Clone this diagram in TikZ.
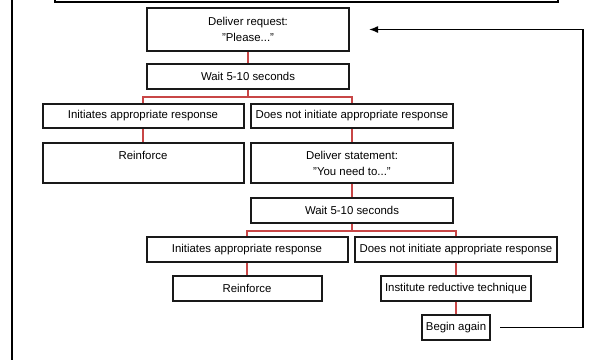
\documentclass[tikz,border=0pt]{standalone}
\usepackage{fontspec}
\setmainfont{Liberation Sans}
\usetikzlibrary{arrows.meta}

\tikzset{
	box/.style={draw=black!90, line width=2pt, fill=white, inner sep=0pt,
		minimum height=25pt, align=center, font=\fontsize{11.4}{16}\selectfont},
	tallbox/.style={box, minimum height=40pt},
	link/.style={draw={rgb,255:red,200;green,70;blue,70}, line width=1.7pt},
	back/.style={draw=black, line width=1.4pt, -{Latex[length=9pt,width=7pt]}}
}

\begin{document}
\begin{tikzpicture}[x=1pt, y=-1pt]
	\useasboundingbox (0,0) rectangle (596,360);
	
	% frame
	\draw[line width=2.6pt] (12,0) -- (12,360);
	\draw[line width=1.8pt] (55,-5) -- (55,2) -- (558,2) -- (558,-5);
	
	\node[tallbox, minimum width=202pt, minimum height=43pt] (req) at (248,29.5) {Deliver request:\\"Please..."};
	\node[box, minimum width=202pt] (wait1) at (248,76.5) {Wait 5-10 seconds};
	
	\node[box, minimum width=201pt, minimum height=24pt] (yes1) at (143,116) {Initiates appropriate response};
	\node[box, minimum width=202pt, minimum height=24pt] (no1) at (352,116) {Does not initiate appropriate response};
	
	\node[tallbox, minimum width=201pt] (rein1) at (143,163) {Reinforce\\\mbox{}};
	\node[tallbox, minimum width=202pt] (stmt) at (352,163) {Deliver statement:\\"You need to..."};
	\node[box, minimum width=202pt] (wait2) at (352,210.5) {Wait 5-10 seconds};
	
	\node[box, minimum width=201pt] (yes2) at (247,249.5) {Initiates appropriate response};
	\node[box, minimum width=202pt] (no2) at (456,249.5) {Does not initiate appropriate response};
	
	\node[box, minimum width=149pt] (rein2) at (247,288.5) {Reinforce};
	\node[box, minimum width=150pt] (reduct) at (456,288.5) {Institute reductive technique};
	\node[box, minimum width=68pt] (again) at (456,327.5) {Begin again};
	
	\coordinate (loop) at (583,200);
	
	\foreach \a\b in {req/wait1, yes1/rein1, no1/stmt, stmt/wait2,
		yes2/rein2, no2/reduct, reduct/again}
	\draw[link] (\a.south) -- (\b.north);
	
	\draw[link] (wait1.south) -- ++(0,7) coordinate (bus1) -| (yes1.north);
	\draw[link] (bus1) -| (no1.north);
	\draw[link] (wait2.south) -- ++(0,7) coordinate (bus2) -| (yes2.north);
	\draw[link] (bus2) -| (no2.north);
	
	\draw[back, shorten <=9pt, shorten >=19pt] (again.east) -| (loop) |- (req.east);
	
\end{tikzpicture}
\end{document}
